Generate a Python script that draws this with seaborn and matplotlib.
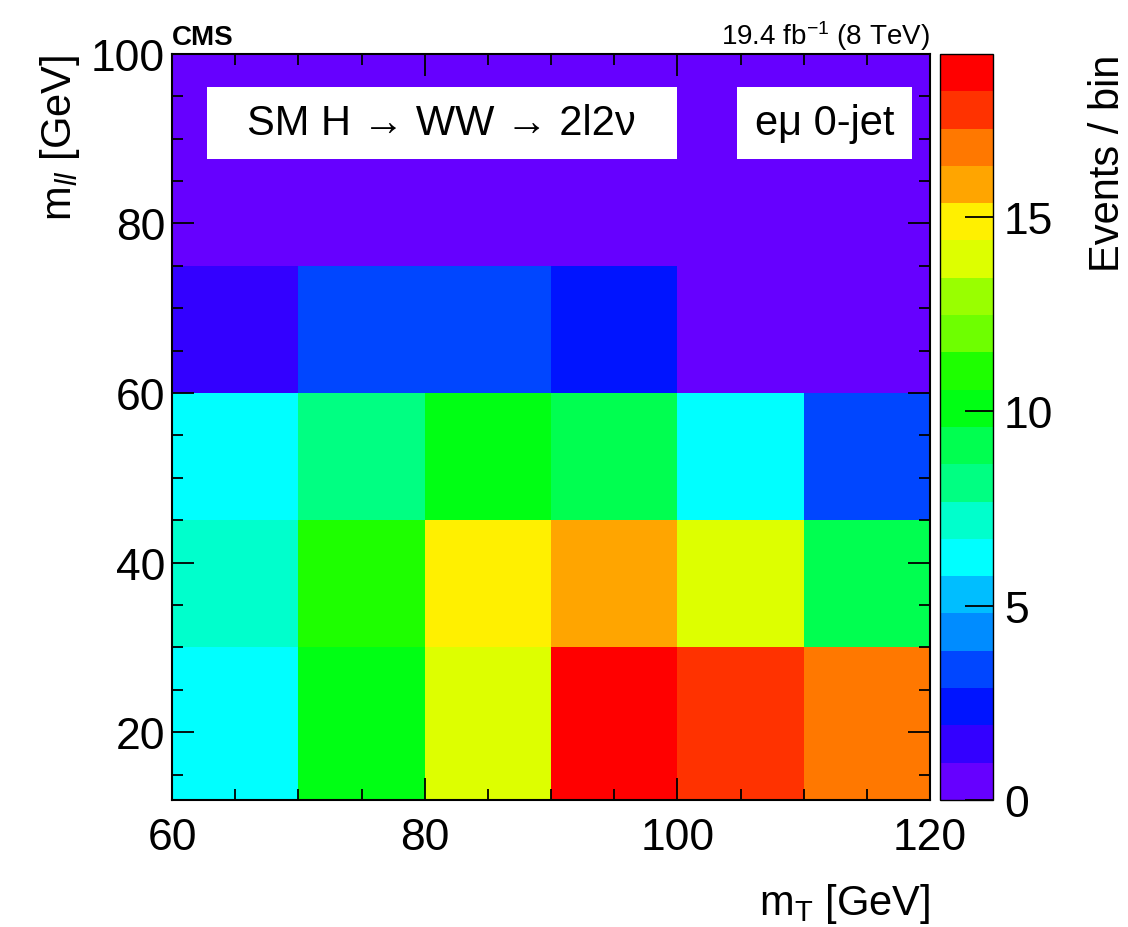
import numpy as np
import pandas as pd
import matplotlib
matplotlib.use("Agg")
import matplotlib.pyplot as plt
from matplotlib.colors import ListedColormap
from matplotlib.patches import Rectangle
from matplotlib.ticker import MultipleLocator
import seaborn as sns

# bin edges in GeV
mt_edges = [60, 70, 80, 90, 100, 110, 120]
mll_edges = [12, 30, 45, 60, 75, 100]

# events per bin, one list per m_ll slice (bottom to top), ordered along m_T
events_mll_12_30 = [6.2, 10.1, 13.9, 19.2, 17.8, 16.8]
events_mll_30_45 = [7.2, 11.0, 14.8, 15.8, 13.8, 9.1]
events_mll_45_60 = [6.3, 8.1, 10.0, 9.2, 6.4, 3.3]
events_mll_60_75 = [1.4, 3.3, 3.2, 2.3, 0.5, 0.4]
events_mll_75_100 = [0.4, 0.3, 0.5, 0.2, 0.3, 0.2]

x_ticks = [60, 80, 100, 120]
y_ticks = [20, 40, 60, 80, 100]
cbar_ticks = [0, 5, 10, 15]

# 20-step rainbow palette, bottom to top (ROOT style)
RAINBOW_20 = [
    "#6600ff", "#3300ff", "#0014ff", "#0046ff", "#008cff",
    "#00beff", "#00ffff", "#00ffcc", "#00ff82", "#00ff50",
    "#00ff14", "#1eff00", "#6eff00", "#99ff00", "#ddff00",
    "#fff000", "#ffa500", "#ff7800", "#ff3200", "#ff0000",
]

FONT = ["Liberation Sans", "DejaVu Sans"]


def build_table():
    rows = [events_mll_12_30, events_mll_30_45, events_mll_45_60,
            events_mll_60_75, events_mll_75_100]
    recs = []
    for j, row in enumerate(rows):
        for i, val in enumerate(row):
            recs.append({
                "mt": 0.5 * (mt_edges[i] + mt_edges[i + 1]),
                "mll": 0.5 * (mll_edges[j] + mll_edges[j + 1]),
                "events": val,
            })
    return pd.DataFrame(recs)


def main():
    sns.set_style("ticks")
    plt.rcParams["font.family"] = FONT
    plt.rcParams["text.color"] = "black"
    plt.rcParams["xtick.color"] = "black"
    plt.rcParams["ytick.color"] = "black"
    plt.rcParams["axes.edgecolor"] = "black"
    plt.rcParams["axes.axisbelow"] = False
    plt.rcParams["mathtext.fontset"] = "custom"
    plt.rcParams["mathtext.rm"] = "Liberation Sans"
    plt.rcParams["mathtext.it"] = "Liberation Sans:italic"
    plt.rcParams["mathtext.bf"] = "Liberation Sans:bold"

    df = build_table()
    cmap = ListedColormap(RAINBOW_20)

    fig = plt.figure(figsize=(11.28, 9.28), dpi=100)
    ax = fig.add_axes([0.1525, 0.1369, 0.672, 0.8039])
    cax = fig.add_axes([0.8333, 0.1369, 0.047, 0.8039])

    sns.histplot(
        data=df, x="mt", y="mll", weights="events",
        bins=[mt_edges, mll_edges], cmap=cmap,
        vmin=0, vmax=df["events"].max(), thresh=None,
        cbar=True, cbar_ax=cax, ax=ax,
    )
    ax.set_axisbelow(False)
    cax.set_axisbelow(False)

    ax.set_xlim(mt_edges[0], mt_edges[-1])
    ax.set_ylim(mll_edges[0], mll_edges[-1])
    ax.set_xticks(x_ticks)
    ax.set_yticks(y_ticks)
    ax.xaxis.set_minor_locator(MultipleLocator(5))
    ax.yaxis.set_minor_locator(MultipleLocator(5))
    ax.set_xlabel("")
    ax.set_ylabel("")
    ax.tick_params(which="both", direction="in", top=True, right=True,
                   width=1.3, colors="black", labelsize=32)
    ax.tick_params(which="major", length=16)
    ax.tick_params(which="minor", length=8)
    ax.tick_params(axis="x", pad=12)
    ax.tick_params(axis="y", pad=5)
    for sp in ax.spines.values():
        sp.set_visible(True)
        sp.set_linewidth(1.5)
        sp.set_color("black")
        sp.set_zorder(10)

    cax.set_yticks(cbar_ticks)
    cax.yaxis.set_ticks_position("right")
    cax.tick_params(which="both", direction="in", length=20, width=1.3,
                    colors="black", labelsize=32, pad=8)
    cax.minorticks_off()
    for sp in cax.spines.values():
        sp.set_linewidth(1.0)
        sp.set_color("black")

    # label boxes inside the frame
    ax.add_patch(Rectangle((0.046, 0.859), 0.620, 0.097, transform=ax.transAxes,
                           facecolor="white", edgecolor="none", zorder=5))
    ax.text(0.356, 0.907, "SM H \u2192 WW \u2192 2l2\u03bd", transform=ax.transAxes,
            ha="center", va="center", fontsize=30, family=FONT, zorder=6)
    ax.add_patch(Rectangle((0.745, 0.859), 0.231, 0.097, transform=ax.transAxes,
                           facecolor="white", edgecolor="none", zorder=5))
    ax.text(0.8605, 0.907, "e\u03bc 0-jet", transform=ax.transAxes,
            ha="center", va="center", fontsize=30, family=FONT, zorder=6)

    # header texts
    fig.text(0.1525, 0.951, "CMS", ha="left", va="baseline", fontsize=20,
             fontweight="bold")
    fig.text(0.8245, 0.951, r"19.4 fb$^{-1}$ (8 TeV)", ha="right",
             va="baseline", fontsize=20)

    # axis titles
    fig.text(0.8245, 0.014, r"m$_\mathrm{T}$ [GeV]", ha="right",
             va="baseline", fontsize=30)
    fig.text(0.053, 0.941, r"m$_{ll}$ [GeV]", rotation=90, ha="center",
             va="top", fontsize=30)
    fig.text(0.982, 0.941, "Events / bin", rotation=90, ha="center",
             va="top", fontsize=30)

    fig.savefig("out.png", dpi=100)
    plt.close(fig)


if __name__ == "__main__":
    main()
